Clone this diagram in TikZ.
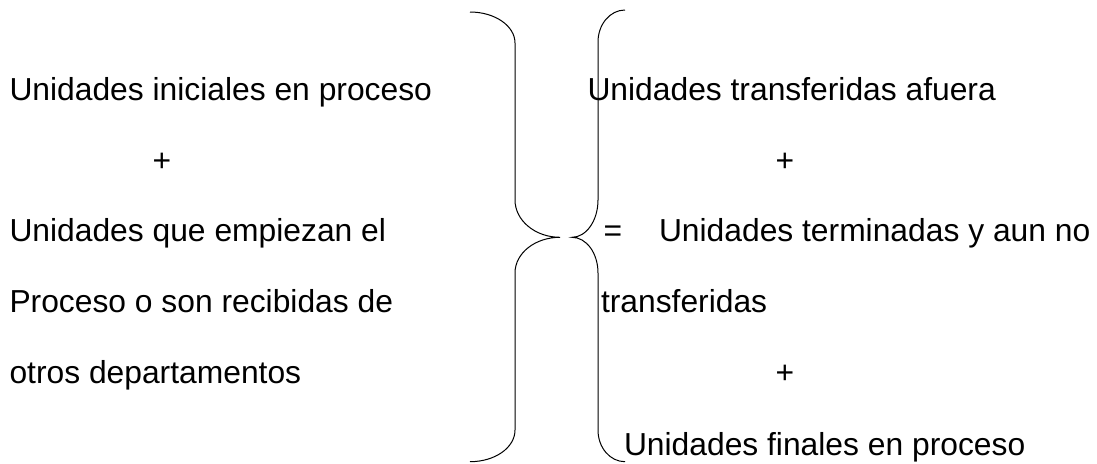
\documentclass[tikz,border=0pt]{standalone}
\usepackage{fontspec}
\setmainfont{Liberation Sans}
\begin{document}
\begin{tikzpicture}[x=1pt,y=-1pt,
  txt/.style={inner sep=0pt,outer sep=0pt,anchor=base west,font=\fontsize{31.8}{38}\selectfont},
  sym/.style={inner sep=0pt,outer sep=0pt,anchor=base,font=\fontsize{31.8}{38}\selectfont},
  bracepath/.style={draw=black,line width=1pt}]
\useasboundingbox (0,0) rectangle (1097,463);
% left column
\node[txt] (l1) at (9.5,100) {Unidades iniciales en proceso};
\node[sym] (lp) at (162,171) {+};
\node[txt] (l2) at (9.5,241.7) {Unidades que empiezan el};
\node[txt] (l3) at (9.5,312.5) {Proceso o son recibidas de};
\node[txt] (l4) at (9.5,383.5) {otros departamentos};
% closing brace
\draw[bracepath] (470,12) .. controls (494.9,12) and (515,25.9) .. (515,43)
  -- (515,200) .. controls (515,220.4) and (535.1,237.3) .. (560,237.3)
  .. controls (535.1,237.3) and (515,253.1) .. (515,273)
  -- (515,430) .. controls (515,447.7) and (494.9,461.7) .. (470,461.7);
% opening brace
\draw[bracepath] (625,10) .. controls (610.1,10) and (598,24.3) .. (598,42)
  -- (598,200) .. controls (598,220.4) and (586.4,237.3) .. (572,237.3)
  .. controls (586.4,237.3) and (598,253.1) .. (598,273)
  -- (598,430) .. controls (598,447.7) and (610.1,461.7) .. (625,461.7);
% right column
\node[txt] (r1) at (587.5,100) {Unidades transferidas afuera};
\node[sym] (rp1) at (785,171) {+};
\node[sym] (eq) at (613,241.7) {=};
\node[txt] (r2) at (659,241.7) {Unidades terminadas y aun no};
\node[txt] (r3) at (601,312.5) {transferidas};
\node[sym] (rp2) at (785,383.5) {+};
\node[txt] (r4) at (624,455) {Unidades finales en proceso};
\end{tikzpicture}
\end{document}
